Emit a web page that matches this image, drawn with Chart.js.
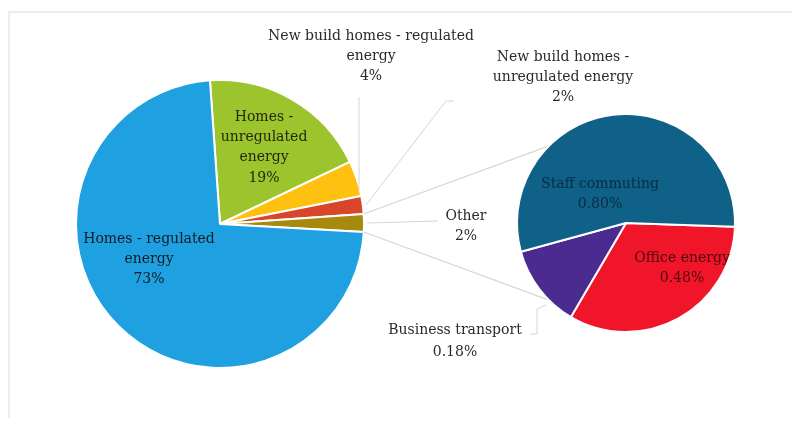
<!DOCTYPE html>
<html>
<head>
<meta charset="utf-8">
<script src="https://cdn.jsdelivr.net/npm/chart.js@4"></script>
<style>
  body { margin: 0; background: #fff; }
  #wrap { position: relative; width: 792px; height: 432px; }
  .layer { position: absolute; left: 0; top: 0; width: 792px; height: 432px; }
</style>
</head>
<body>
<div id="wrap">
  <div class="layer"><canvas id="mainPie"></canvas></div>
  <div class="layer"><canvas id="subPie"></canvas></div>
</div>
<script>
// main pie, clockwise from the top
var mainLabels = ['Homes - unregulated energy', 'New build homes - regulated energy',
                  'New build homes - unregulated energy', 'Other', 'Homes - regulated energy'];
var mainValues = [19, 4, 2, 2, 73];
var mainColors = ['#9cc42c', '#ffc10f', '#d9452b', '#a68a0d', '#1fa1e1'];

// the "Other" slice broken out
var subLabels = ['Office energy', 'Business transport', 'Staff commuting'];
var subValues = [0.48, 0.18, 0.80];
var subColors = ['#f11529', '#4b2b8f', '#0f6188'];

// how each label is wrapped, and where it sits
var mainText = [
  { lines: ['Homes -', 'unregulated', 'energy'], x: 264, y: 117, color: '#232710' },
  { lines: ['New build homes - regulated', 'energy'], x: 371, y: 36, color: '#2a2a2a' },
  { lines: ['New build homes -', 'unregulated energy'], x: 563, y: 57, color: '#2a2a2a' },
  { lines: ['Other'], x: 466, y: 216, color: '#2a2a2a' },
  { lines: ['Homes - regulated', 'energy'], x: 149, y: 239, color: '#121c24' }
];
var subText = [
  { lines: ['Office energy'], x: 682, y: 258, color: '#4e0a12' },
  { lines: ['Business transport'], x: 455, y: 330, color: '#2a2a2a', gap: 22 },
  { lines: ['Staff commuting'], x: 600, y: 184, color: '#0a2c42' }
];

var FONT = '14px "DejaVu Serif"';

function drawLabels(ctx, items, values, digits) {
  ctx.save();
  ctx.font = FONT;
  ctx.textAlign = 'center';
  ctx.textBaseline = 'middle';
  items.forEach(function (it, i) {
    var lines = it.lines.concat([values[i].toFixed(digits) + '%']);
    var gap = it.gap || 20.3;
    ctx.fillStyle = it.color;
    lines.forEach(function (t, k) {
      ctx.fillText(t, it.x, it.y + k * gap);
    });
  });
  ctx.restore();
}

function line(ctx, pts) {
  ctx.beginPath();
  ctx.moveTo(pts[0][0], pts[0][1]);
  for (var i = 1; i < pts.length; i++) ctx.lineTo(pts[i][0], pts[i][1]);
  ctx.stroke();
}

var mainChart = new Chart(document.getElementById('mainPie'), {
  type: 'pie',
  data: {
    labels: mainLabels,
    datasets: [{ data: mainValues, backgroundColor: mainColors, borderColor: '#fff', borderWidth: 2 }]
  },
  options: {
    responsive: true,
    maintainAspectRatio: false,
    animation: false,
    rotation: -4,
    layout: { padding: { left: 75, right: 427, top: 79, bottom: 63 } },
    plugins: { legend: { display: false }, tooltip: { enabled: false } }
  },
  plugins: [{
    id: 'frameAndText',
    beforeDraw: function (chart) {
      var ctx = chart.ctx;
      ctx.save();
      ctx.strokeStyle = '#ececec';
      ctx.lineWidth = 2;
      line(ctx, [[9, 418], [9, 12], [792, 12]]);
      ctx.restore();
    },
    afterDraw: function (chart) {
      drawLabels(chart.ctx, mainText, mainValues, 0);
    }
  }]
});

var subChart = new Chart(document.getElementById('subPie'), {
  type: 'pie',
  data: {
    labels: subLabels,
    datasets: [{ data: subValues, backgroundColor: subColors, borderColor: '#fff', borderWidth: 2 }]
  },
  options: {
    responsive: true,
    maintainAspectRatio: false,
    animation: false,
    rotation: 92,
    layout: { padding: { left: 516, right: 56, top: 113, bottom: 99 } },
    plugins: { legend: { display: false }, tooltip: { enabled: false } }
  },
  plugins: [{
    id: 'connectors',
    beforeDatasetsDraw: function (chart) {
      var ctx = chart.ctx;
      var other = mainChart.getDatasetMeta(0).data[3];
      var sub = chart.getDatasetMeta(0).data[0];
      var r = sub.outerRadius;
      // Chart.js angles are radians from the x axis, clockwise
      var a0 = other.startAngle, a1 = other.endAngle;
      var p0 = [other.x + other.outerRadius * Math.cos(a0), other.y + other.outerRadius * Math.sin(a0)];
      var p1 = [other.x + other.outerRadius * Math.cos(a1), other.y + other.outerRadius * Math.sin(a1)];
      var q0 = [sub.x + r * Math.cos(-Math.PI * 0.75), sub.y + r * Math.sin(-Math.PI * 0.75)];
      var q1 = [sub.x + r * Math.cos(Math.PI * 0.75), sub.y + r * Math.sin(Math.PI * 0.75)];
      ctx.save();
      ctx.strokeStyle = '#d6d6d6';
      ctx.lineWidth = 1.2;
      line(ctx, [p0, q0]);
      line(ctx, [p1, q1]);

      // leader lines for the outside labels
      ctx.strokeStyle = '#d4d4d4';
      ctx.lineWidth = 1;
      line(ctx, [[359, 97], [359, 190]]);
      line(ctx, [[366, 205], [446, 101], [454, 101]]);
      line(ctx, [[367, 223], [438, 221]]);
      line(ctx, [[546, 305], [537, 309], [537, 334], [530, 334]]);
      ctx.restore();
    },
    afterDraw: function (chart) {
      drawLabels(chart.ctx, subText, subValues, 2);
    }
  }]
});
</script>
</body>
</html>
